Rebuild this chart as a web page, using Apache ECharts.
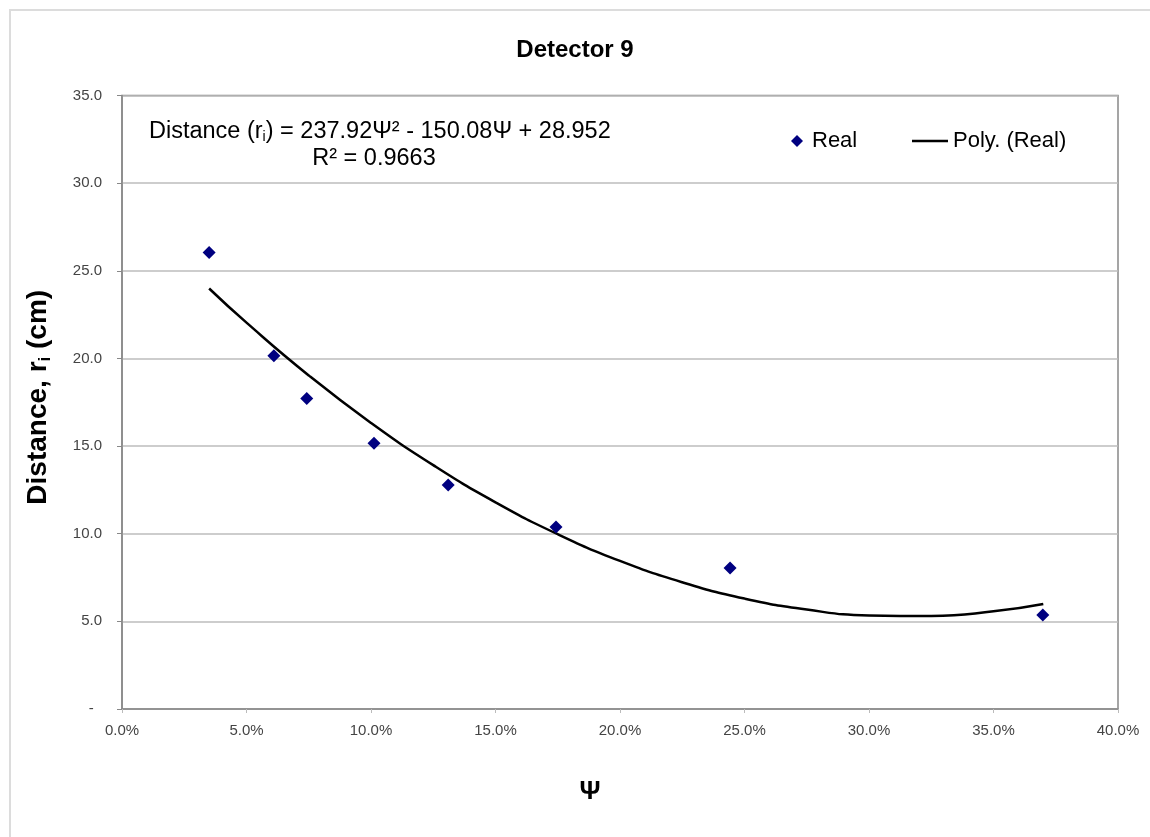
<!DOCTYPE html>
<html>
<head>
<meta charset="utf-8">
<script src="https://cdn.jsdelivr.net/npm/echarts@6/dist/echarts.min.js"></script>
<style>html,body{margin:0;padding:0;background:#fff}#c{width:1150px;height:837px}</style>
</head>
<body>
<div id="c"></div>
<script>
// Measured data (Ψ as fraction, distance in cm)
const psiReal = [0.035, 0.061, 0.0742, 0.1012, 0.131, 0.1743, 0.2442, 0.3698];
const distReal = [26.05, 20.15, 17.72, 15.16, 12.78, 10.38, 8.04, 5.36];
// Trendline points
const psiTrend = [0.035, 0.05, 0.075, 0.10, 0.125, 0.15, 0.175, 0.20, 0.225, 0.25, 0.275, 0.30, 0.325, 0.35, 0.37];
const distTrend = [23.99, 22.04, 19.03, 16.32, 13.91, 11.79, 9.97, 8.45, 7.23, 6.30, 5.67, 5.34, 5.31, 5.57, 5.99];
const xTicks = [0, 0.05, 0.10, 0.15, 0.20, 0.25, 0.30, 0.35, 0.40];
const yTicks = [0, 5, 10, 15, 20, 25, 30, 35];

const FONT = "Arial, 'Liberation Sans', sans-serif";
const chart = echarts.init(document.getElementById('c'), null, {renderer: 'canvas'});
chart.setOption({
  backgroundColor: '#fff',
  animation: false,
  textStyle: {fontFamily: FONT},
  title: {
    text: 'Detector 9', left: 'center', top: 33,
    textStyle: {fontFamily: FONT, fontSize: 24, fontWeight: 'bold', color: '#000'}
  },
  graphic: [
    {type: 'rect', shape: {x: 10, y: 10, width: 1300, height: 1000}, style: {fill: 'none', stroke: '#dcdcdc', lineWidth: 2}, silent: true, z: -1},
    {type: 'text', x: 149, y: 132, style: {
      text: '{t|Distance (r}{s|i}{t|) = 237.92Ψ² - 150.08Ψ + 28.952}',
      verticalAlign: 'middle', align: 'left',
      rich: {t: {fontFamily: FONT, fontSize: 23.5, fill: '#000'}, s: {fontFamily: FONT, fontSize: 14, fill: '#000', padding: [10, 0, 0, 0]}}
    }},
    {type: 'text', x: 374, y: 159, style: {text: 'R² = 0.9663', fontFamily: FONT, fontSize: 23.5, fill: '#000', align: 'center', verticalAlign: 'middle'}}
  ],
  legend: [
    {data: [{name: 'Real', icon: 'diamond'}], left: 786, top: 125, itemWidth: 12, itemHeight: 12, itemGap: 0,
     textStyle: {fontFamily: FONT, fontSize: 22, color: '#000', padding: [0, 0, 0, 4]}},
    {data: [{name: 'Poly. (Real)', icon: 'rect'}], left: 907, top: 125, itemWidth: 36, itemHeight: 2.5, itemGap: 0,
     textStyle: {fontFamily: FONT, fontSize: 22, color: '#000'}}
  ],
  grid: {left: 122, right: 32, top: 95.5, bottom: 128, show: true, borderColor: '#888', borderWidth: 1.5, containLabel: false},
  xAxis: {
    type: 'value', min: xTicks[0], max: xTicks[xTicks.length - 1], interval: 0.05,
    name: 'Ψ', nameLocation: 'middle', nameGap: 70,
    nameTextStyle: {fontFamily: FONT, fontSize: 26, fontWeight: 'bold', color: '#000', padding: [0, 60, 0, 0]},
    axisLine: {show: true, lineStyle: {color: '#888', width: 1.5}},
    axisTick: {show: true, length: 4, inside: false, lineStyle: {color: '#bbb'}},
    splitLine: {show: false},
    axisLabel: {fontFamily: FONT, fontSize: 15, color: '#444', margin: 14,
      formatter: v => (v * 100).toFixed(1) + '%'}
  },
  yAxis: {
    type: 'value', min: yTicks[0], max: yTicks[yTicks.length - 1], interval: 5,
    name: '{a|Distance, r}{b|i}{a| (cm)}', nameLocation: 'middle', nameGap: 68, nameRotate: 90,
    nameTextStyle: {padding: [0, 0, 0, 10], rich: {
      a: {fontFamily: FONT, fontSize: 28, fontWeight: 'bold', color: '#000'},
      b: {fontFamily: FONT, fontSize: 17, fontWeight: 'bold', color: '#000', padding: [14, 0, 0, 0]}
    }},
    axisLine: {show: true, lineStyle: {color: '#888', width: 1.5}},
    axisTick: {show: true, length: 5, lineStyle: {color: '#888'}},
    splitLine: {show: true, lineStyle: {color: '#bdbdbd', width: 1.5}},
    axisLabel: {fontFamily: FONT, fontSize: 15, color: '#444', margin: 20,
      formatter: v => v === 0 ? '-  ' : v.toFixed(1)}
  },
  series: [
    {name: 'Real', type: 'scatter', symbol: 'diamond', symbolSize: 13,
     itemStyle: {color: '#000080', opacity: 1}, z: 3,
     data: psiReal.map((x, i) => [x, distReal[i]])},
    {name: 'Poly. (Real)', type: 'line', smooth: true, showSymbol: false, symbol: 'none',
     lineStyle: {color: '#000', width: 2.5}, itemStyle: {color: '#000'}, z: 2,
     data: psiTrend.map((x, i) => [x, distTrend[i]])}
  ]
});
</script>
</body>
</html>
